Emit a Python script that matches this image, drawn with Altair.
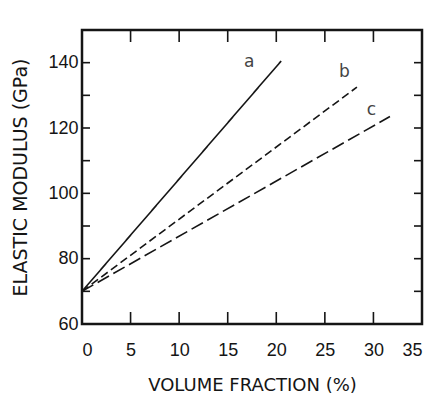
import altair as alt
import pandas as pd

# Data
series = ["a", "b", "c"]
x_start = [0.0, 0.0, 0.0]
y_start = [70.0, 70.0, 70.0]
x_end = [20.5, 28.3, 31.7]
y_end = [140.5, 132.5, 123.5]
label_x = [17.2, 27.0, 29.8]
label_y = [140.3, 137.0, 125.6]
label_text = ["a", "b", "c"]
x_tick_values = [0, 5, 10, 15, 20, 25, 30, 35]
y_label_values = [60, 80, 100, 120, 140]
x_inner_ticks = [5, 10, 15, 20, 25, 30]
y_inner_ticks = [70, 80, 90, 100, 110, 120, 130, 140]

W, H = 340, 294
INK = "#151515"

rows = []
for s, x0, y0, x1, y1 in zip(series, x_start, y_start, x_end, y_end):
    rows.append({"series": s, "x": x0, "y": y0})
    rows.append({"series": s, "x": x1, "y": y1})
lines_df = pd.DataFrame(rows)
labels_df = pd.DataFrame({"x": label_x, "y": label_y, "t": label_text})
xt_df = pd.DataFrame({"x": x_inner_ticks})
yt_df = pd.DataFrame({"y": y_inner_ticks})

xscale = alt.Scale(domain=[0, 35], nice=False, zero=False)
yscale = alt.Scale(domain=[60, 150], nice=False, zero=False)

x_enc = alt.X("x:Q", scale=xscale, title="VOLUME FRACTION (%)",
              axis=alt.Axis(values=x_tick_values, ticks=False, domain=False, grid=False,
                            labelPadding=17, labelFontSize=18, titleFontSize=18,
                            titlePadding=17, titleFontWeight="normal",
                            labelFont="Liberation Sans", titleFont="DejaVu Sans",
                            labelColor=INK, titleColor=INK))
y_enc = alt.Y("y:Q", scale=yscale, title="ELASTIC MODULUS (GPa)",
              axis=alt.Axis(values=y_label_values, ticks=False, domain=False, grid=False,
                            labelPadding=4, labelFontSize=18, titleFontSize=19,
                            titlePadding=17, titleFontWeight="normal",
                            labelFont="Liberation Sans", titleFont="DejaVu Sans",
                            labelColor=INK, titleColor=INK))

lines = alt.Chart(lines_df).mark_line(strokeWidth=1.6, color=INK).encode(
    x=x_enc, y=y_enc,
    strokeDash=alt.StrokeDash("series:N", legend=None,
                              scale=alt.Scale(domain=series, range=[[1, 0], [8, 4], [13, 5]])),
    detail="series:N",
)

labels = alt.Chart(labels_df).mark_text(fontSize=17, font="DejaVu Sans", color="#444",
                                        baseline="middle").encode(
    x=alt.X("x:Q", scale=xscale), y=alt.Y("y:Q", scale=yscale), text="t:N")

bottom_ticks = alt.Chart(xt_df).mark_rule(color=INK, strokeWidth=1.6).encode(
    x=alt.X("x:Q", scale=xscale), y=alt.value(H), y2=alt.value(H - 12))
top_ticks = alt.Chart(xt_df).mark_rule(color=INK, strokeWidth=1.6).encode(
    x=alt.X("x:Q", scale=xscale), y=alt.value(0), y2=alt.value(12))
left_ticks = alt.Chart(yt_df).mark_rule(color=INK, strokeWidth=1.6).encode(
    y=alt.Y("y:Q", scale=yscale), x=alt.value(0), x2=alt.value(8))
right_ticks = alt.Chart(yt_df).mark_rule(color=INK, strokeWidth=1.6).encode(
    y=alt.Y("y:Q", scale=yscale), x=alt.value(W), x2=alt.value(W - 8))

chart = alt.layer(lines, labels, bottom_ticks, top_ticks, left_ticks, right_ticks).properties(
    width=W, height=H,
    autosize=alt.AutoSizeParams(type="none"),
    padding={"left": 74, "top": 22, "right": 2, "bottom": 69},
    background="white",
).configure_view(stroke=INK, strokeWidth=2.5)

chart.save("out.html", embed_options={"renderer": "svg", "actions": False})
